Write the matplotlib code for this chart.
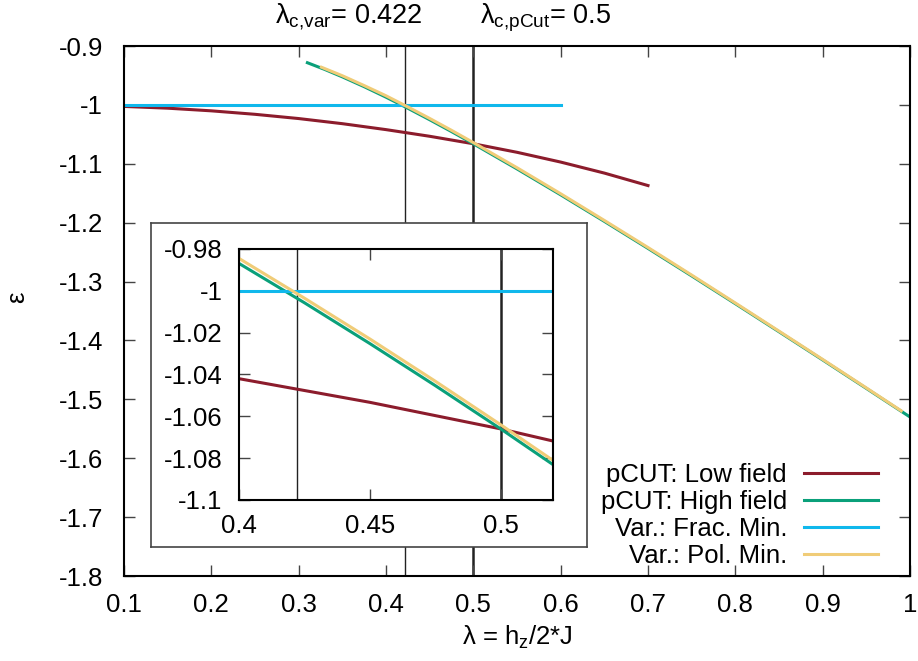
import matplotlib
matplotlib.use('Agg')
import matplotlib.pyplot as plt
from matplotlib.ticker import FuncFormatter

plt.rcParams['font.family'] = ['Liberation Sans', 'DejaVu Sans']
plt.rcParams['mathtext.fontset'] = 'custom'
plt.rcParams['mathtext.rm'] = 'Liberation Sans'
plt.rcParams['mathtext.it'] = 'Liberation Sans'
plt.rcParams['axes.unicode_minus'] = False

# pCUT low field expansion
low_lam = [0.1, 0.15, 0.2, 0.25, 0.3, 0.35, 0.4, 0.45, 0.5, 0.55, 0.6, 0.65, 0.7]
low_eps = [-1.0026, -1.0056, -1.0101, -1.0160, -1.0232, -1.0319, -1.0420,
           -1.0533, -1.0660, -1.0805, -1.0971, -1.1158, -1.1370]

# pCUT high field expansion
high_lam = [0.31, 0.33, 0.35, 0.375, 0.4, 0.425, 0.45, 0.475, 0.5, 0.55, 0.6,
            0.65, 0.7, 0.75, 0.8, 0.85, 0.9, 0.95, 1.0]
high_eps = [-0.9284, -0.9399, -0.9524, -0.9691, -0.9869, -1.0057, -1.0252,
            -1.0453, -1.0660, -1.1087, -1.1527, -1.1978, -1.2437, -1.2904,
            -1.3376, -1.3852, -1.4331, -1.4814, -1.5300]

# variational: fractional minimum (constant)
frac_lam = [0.1, 0.2, 0.3, 0.4, 0.5, 0.6]
frac_eps = [-1.0, -1.0, -1.0, -1.0, -1.0, -1.0]

# variational: polarized minimum
pol_lam = [0.326, 0.35, 0.375, 0.4, 0.425, 0.45, 0.475, 0.5, 0.55, 0.6, 0.65,
           0.7, 0.75, 0.8, 0.85, 0.9, 0.95, 0.99]
pol_eps = [-0.936, -0.9505, -0.9672, -0.9845, -1.0035, -1.0230, -1.0432,
           -1.0640, -1.1067, -1.1509, -1.1962, -1.2422, -1.2890, -1.3364,
           -1.3842, -1.4322, -1.4806, -1.5196]

lam_c_var = 0.422
lam_c_pcut = 0.5

series = [
    (low_lam, low_eps, '#8c1c2c', 'pCUT: Low field'),
    (high_lam, high_eps, '#0aa07a', 'pCUT: High field'),
    (frac_lam, frac_eps, '#10b8ec', 'Var.: Frac. Min.'),
    (pol_lam, pol_eps, '#f0cc78', 'Var.: Pol. Min.'),
]

fs = 18.5
W, H = 918, 661
fig = plt.figure(figsize=(W / 100, H / 100), dpi=100)

ax = fig.add_axes([124 / W, 1 - 576 / H, 786 / W, 530 / H])
for x, y, c, lab in series:
    ax.plot(x, y, color=c, lw=2.2, label=lab)
ax.axvline(lam_c_var, color='#222222', lw=1.0, zorder=1)
ax.axvline(lam_c_pcut, color='#222222', lw=1.8, zorder=1)

ax.set_xlim(0.1, 1.0)
ax.set_ylim(-1.8, -0.9)
ax.set_xticks([0.1, 0.2, 0.3, 0.4, 0.5, 0.6, 0.7, 0.8, 0.9, 1.0])
ax.set_yticks([-1.8, -1.7, -1.6, -1.5, -1.4, -1.3, -1.2, -1.1, -1.0, -0.9])
fmt = FuncFormatter(lambda v, p: '%g' % round(v, 3))
ax.xaxis.set_major_formatter(fmt)
ax.yaxis.set_major_formatter(fmt)
ax.tick_params(direction='in', top=True, right=True, length=8, width=1,
               color='#444444', labelsize=fs)
ax.tick_params(axis='x', pad=12)
ax.tick_params(axis='y', pad=15)
for s in ax.spines.values():
    s.set_linewidth(1.5)

ax.set_xlabel(r'λ = h$_{z}$/2*J', fontsize=fs)
ax.set_ylabel('ε', fontsize=fs, va='center')
ax.yaxis.set_label_coords(-0.136, 0.526)
ax.xaxis.set_label_coords(0.5, -0.09)

ax.legend(loc='lower right', bbox_to_anchor=(0.959, 0.016), frameon=False,
          markerfirst=False, fontsize=fs, handlelength=2.87, handletextpad=0.66,
          labelspacing=0.11, borderpad=0, borderaxespad=0)

# critical points above the plot
fig.text(275 / W, 1 - 23 / H, r'λ$_{\mathrm{c{,}var}}$= 0.422', fontsize=19.5, va='baseline')
fig.text(480 / W, 1 - 23 / H, r'λ$_{\mathrm{c{,}pCut}}$= 0.5', fontsize=19.5, va='baseline')

# inset frame
box = fig.add_axes([151 / W, 1 - 547 / H, 436 / W, 324 / H])
box.set_xticks([])
box.set_yticks([])
box.set_facecolor('white')
for s in box.spines.values():
    s.set_color('#444444')
    s.set_linewidth(1.2)

ins = fig.add_axes([239 / W, 1 - 500 / H, 314 / W, 251 / H])
for x, y, c, lab in series:
    ins.plot(x, y, color=c, lw=2.2)
ins.axvline(lam_c_var, color='#222222', lw=1.0, zorder=1)
ins.axvline(lam_c_pcut, color='#222222', lw=1.8, zorder=1)
ins.set_xlim(0.4, 0.52)
ins.set_ylim(-1.1, -0.98)
ins.set_xticks([0.4, 0.45, 0.5])
ins.set_yticks([-1.1, -1.08, -1.06, -1.04, -1.02, -1.0, -0.98])
ins.xaxis.set_major_formatter(fmt)
ins.yaxis.set_major_formatter(fmt)
ins.tick_params(direction='in', top=True, right=True, length=8, width=1,
                color='#444444', labelsize=fs)
ins.tick_params(axis='x', pad=10)
ins.tick_params(axis='y', pad=12)
for s in ins.spines.values():
    s.set_linewidth(1.5)

plt.savefig('out.png', dpi=100)
